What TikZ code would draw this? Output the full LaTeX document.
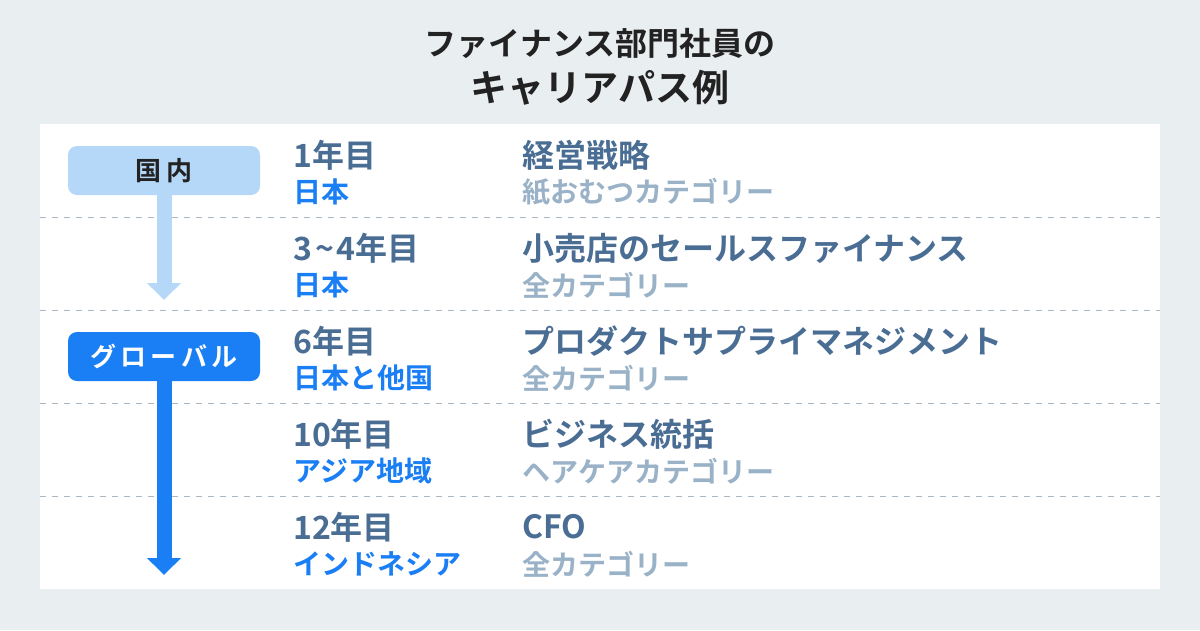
\documentclass[tikz,border=0pt]{standalone}
\usepackage{fontspec}
\setmainfont{Noto Sans CJK JP}[BoldFont={Noto Sans CJK JP Bold}]
\usetikzlibrary{arrows.meta}
\definecolor{bgc}{HTML}{E9EEF0}
\definecolor{titlec}{HTML}{222222}
\definecolor{mainc}{HTML}{4A6D94}
\definecolor{subc}{HTML}{9AB2C7}
\definecolor{locc}{HTML}{1A7EF5}
\definecolor{lightc}{HTML}{B5D8F8}
\definecolor{darkc}{HTML}{1A7EF5}
\definecolor{dashc}{HTML}{A9B8C4}
\tikzset{
  yeartxt/.style={anchor=west, inner sep=0pt, text=mainc, font=\bfseries\fontsize{32}{36}\selectfont},
  loctxt/.style={anchor=west, inner sep=0pt, text=locc, font=\bfseries\fontsize{28}{31}\selectfont},
  roletxt/.style={anchor=west, inner sep=0pt, text=mainc, font=\bfseries\fontsize{32}{36}\selectfont},
  cattxt/.style={anchor=west, inner sep=0pt, text=subc, font=\bfseries\fontsize{28}{31}\selectfont},
  tagbox/.style={rounded corners=9pt, minimum width=192pt, minimum height=49pt, inner sep=0pt, font=\bfseries\fontsize{26}{29}\selectfont},
  sep/.style={draw=dashc, line width=1pt, dash pattern=on 6pt off 6pt},
  flow/.style={line width=15pt, -{Triangle[width=33pt,length=17pt]}}
}
\begin{document}
\begin{tikzpicture}[x=1pt,y=-1pt]
\fill[bgc] (0,0) rectangle (1200,630);
\useasboundingbox (0,0) rectangle (1200,630);
\fill[white] (40,124) rectangle (1160,589);
% title
\node[inner sep=0pt, text=titlec, font=\bfseries\fontsize{32}{35}\selectfont] (t1) at (600,43) {ファイナンス部門社員の};
\node[inner sep=0pt, text=titlec, font=\bfseries\fontsize{37}{40}\selectfont] (t2) at (600,88) {キャリアパス例};
% separators
\foreach \yy/\nm in {217/a,310/b,403/c,496/d}{
  \coordinate (sl\nm) at (40,\yy);
  \coordinate (sr\nm) at (1160,\yy);
  \draw[sep] (sl\nm) -- (sr\nm);
}
% rows
\node[yeartxt] (y1) at (293,155) {1年目};
\node[loctxt]  (l1) at (293,192) {日本};
\node[roletxt] (r1) at (522,155) {経営戦略};
\node[cattxt]  (c1) at (522,192) {紙おむつカテゴリー};

\node[yeartxt] (y2) at (293,248) {3\kern3pt\textasciitilde\kern3pt 4年目};
\node[loctxt]  (l2) at (293,285) {日本};
\node[roletxt] (r2) at (522,248) {小売店のセールスファイナンス};
\node[cattxt]  (c2) at (522,285) {全カテゴリー};

\node[yeartxt] (y3) at (293,341) {6年目};
\node[loctxt]  (l3) at (293,378) {日本と他国};
\node[roletxt] (r3) at (522,341) {プロダクトサプライマネジメント};
\node[cattxt]  (c3) at (522,378) {全カテゴリー};

\node[yeartxt] (y4) at (293,434) {10年目};
\node[loctxt]  (l4) at (293,471) {アジア地域};
\node[roletxt] (r4) at (522,434) {ビジネス統括};
\node[cattxt]  (c4) at (522,471) {ヘアケアカテゴリー};

\node[yeartxt] (y5) at (293,527) {12年目};
\node[loctxt]  (l5) at (293,564) {インドネシア};
\node[roletxt] (r5) at (522,527) {CFO};
\node[cattxt]  (c5) at (522,564) {全カテゴリー};

% tags and arrows
\coordinate (e1) at (164,300);
\coordinate (e2) at (164,575);
\draw[flow, draw=lightc, fill=lightc] (164,190) -- (e1);
\draw[flow, draw=darkc, fill=darkc] (164,376) -- (e2);
\node[tagbox, fill=lightc, text=titlec] (g1) at (164,170.5) {国\,内};
\node[tagbox, fill=darkc, text=white] (g2) at (164,356.5) {グ\,ロ\,ー\,バ\,ル};
\end{tikzpicture}
\end{document}
